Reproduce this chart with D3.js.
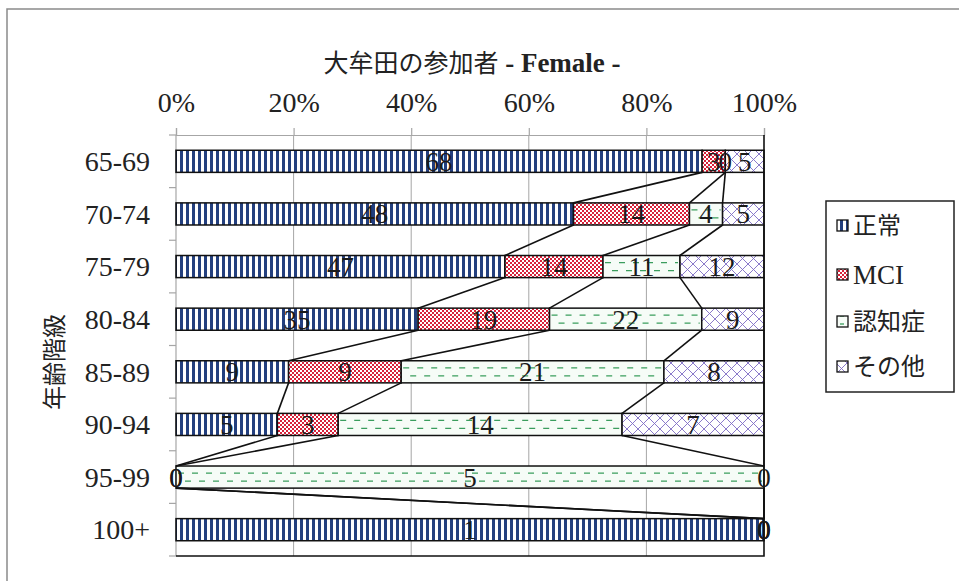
<!DOCTYPE html>
<html><head><meta charset="utf-8">
<script src="https://cdn.jsdelivr.net/npm/d3@7"></script>
<style>
html,body{margin:0;padding:0;background:#fff;}
text{font-family:"Liberation Serif","DejaVu Serif","Noto Sans CJK JP",serif;}
</style></head>
<body><svg id="c" width="959" height="581"></svg>
<script>
const title = "大牟田の参加者";
const titleSuffix = " - Female -";
const yTitle = "年齢階級";
const categories = ["65-69","70-74","75-79","80-84","85-89","90-94","95-99","100+"];
const seriesNames = ["正常","MCI","認知症","その他"];
const normalVals   = [68,48,47,35,9,5,0,1];
const mciVals      = [3,14,14,19,9,3,0,0];
const dementiaVals = [0,4,11,22,21,14,5,0];
const otherVals    = [5,5,12,9,8,7,0,0];
const xTicks = [0,0.2,0.4,0.6,0.8,1];

const rows = categories.map((c,i)=>({cat:c,"正常":normalVals[i],"MCI":mciVals[i],"認知症":dementiaVals[i],"その他":otherVals[i]}));
const stack = d3.stack().keys(seriesNames).offset(d3.stackOffsetExpand)(rows);

const svg = d3.select("#c");
const L=176,R=764,T=135,B=556;
const x = d3.scaleLinear().domain([0,1]).range([L,R]);
const y = d3.scaleBand().domain(categories).range([T,B]).paddingInner(0.58).paddingOuter(0.29);
const bw = y.bandwidth();
const step = y.step();

const defs = svg.append("defs");
let p = defs.append("pattern").attr("id","pNormal").attr("patternUnits","userSpaceOnUse").attr("width",6).attr("height",6);
p.append("rect").attr("width",6).attr("height",6).attr("fill","#fff");
p.append("rect").attr("width",3).attr("height",6).attr("fill","#233f7e");
p = defs.append("pattern").attr("id","pMci").attr("patternUnits","userSpaceOnUse").attr("width",4).attr("height",4);
p.append("rect").attr("width",4).attr("height",4).attr("fill","#fff");
p.append("rect").attr("width",2).attr("height",2).attr("fill","#d8213a");
p.append("rect").attr("x",2).attr("y",2).attr("width",2).attr("height",2).attr("fill","#d8213a");
p = defs.append("pattern").attr("id","pOther").attr("patternUnits","userSpaceOnUse").attr("width",11).attr("height",11);
p.append("rect").attr("width",11).attr("height",11).attr("fill","#fff");
p.append("path").attr("d","M0,0L11,11M11,0L0,11").attr("stroke","#7e6cc4").attr("stroke-width",0.9);
p = defs.append("pattern").attr("id","pDem").attr("patternUnits","userSpaceOnUse").attr("width",8).attr("height",8);
p.append("rect").attr("width",8).attr("height",8).attr("fill","#f6fcf7");
p.append("path").attr("d","M0,4H4").attr("stroke","#3a9d5d").attr("stroke-width",1.3);
const fills = {"正常":"url(#pNormal)","MCI":"url(#pMci)","認知症":"#f6fcf7","その他":"url(#pOther)"};

svg.append("path").attr("d","M7,600V9H970").attr("fill","none").attr("stroke","#8a8a8a").attr("stroke-width",1.5);

svg.append("g").selectAll("line").data(xTicks.slice(1,-1)).join("line")
  .attr("x1",d=>x(d)).attr("x2",d=>x(d)).attr("y1",T).attr("y2",B)
  .attr("stroke","#a6a6a6").attr("stroke-width",1);

const ax = svg.append("g").attr("transform",`translate(0,${T})`)
  .call(d3.axisTop(x).tickValues(xTicks).tickFormat(d3.format(".0%")).tickSize(7).tickPadding(16));
ax.select(".domain").attr("stroke","#a6a6a6").attr("stroke-width",1.2);
ax.selectAll(".tick line").attr("stroke","#a6a6a6").attr("stroke-width",1.2);
ax.selectAll("text").attr("font-size",28).attr("fill","#222").style("font-family",'"Liberation Serif",serif');

const bounds = d3.range(categories.length+1).map(i=>T+i*step);
svg.append("line").attr("x1",L).attr("x2",L).attr("y1",T).attr("y2",B).attr("stroke","#a6a6a6").attr("stroke-width",1.2);
svg.append("g").selectAll("line").data(bounds).join("line")
  .attr("x1",L-7).attr("x2",L).attr("y1",d=>d).attr("y2",d=>d).attr("stroke","#a6a6a6").attr("stroke-width",1.2);
svg.append("g").selectAll("text").data(categories).join("text")
  .attr("x",150).attr("y",d=>y(d)+bw/2).attr("dy","0.35em").attr("text-anchor","end")
  .attr("font-size",28).attr("fill","#222").text(d=>d);

const gBars = svg.append("g");
stack.forEach(s=>{
  gBars.append("g").selectAll("rect").data(s).join("rect")
    .attr("x",d=>x(d[0])).attr("width",d=>x(d[1])-x(d[0]))
    .attr("y",d=>y(d.data.cat)).attr("height",bw)
    .attr("fill",fills[s.key]);
  if(s.key==="認知症"){
    const gd = gBars.append("g");
    [0.32,0.68].forEach((f,j)=>{
      gd.selectAll(null).data(s.filter(d=>d[1]>d[0])).join("line")
        .attr("x1",d=>x(d[0])+2).attr("x2",d=>x(d[1])-2)
        .attr("y1",d=>y(d.data.cat)+bw*f).attr("y2",d=>y(d.data.cat)+bw*f)
        .attr("stroke","#3a9d5d").attr("stroke-width",1.3)
        .attr("stroke-dasharray","6,8").attr("stroke-dashoffset",j?7:0);
    });
  }
  gBars.append("g").selectAll("rect").data(s.filter(d=>d[1]>d[0])).join("rect")
    .attr("x",d=>x(d[0])).attr("width",d=>x(d[1])-x(d[0]))
    .attr("y",d=>y(d.data.cat)).attr("height",bw)
    .attr("fill","none").attr("stroke","#111").attr("stroke-width",1.5);
});

const gLines = svg.append("g");
stack.forEach(s=>{
  for(let k=0;k<s.length-1;k++){
    gLines.append("line")
      .attr("x1",x(s[k][1])).attr("y1",y(categories[k])+bw)
      .attr("x2",x(s[k+1][1])).attr("y2",y(categories[k+1]))
      .attr("stroke","#111").attr("stroke-width",1.6);
  }
});
svg.append("path").attr("d",`M${R},${T}V${B}H${L}`).attr("fill","none").attr("stroke","#111").attr("stroke-width",1.6);

const gLab = svg.append("g");
stack.forEach(s=>{
  gLab.append("g").selectAll("text").data(s).join("text")
    .attr("x",d=>x((d[0]+d[1])/2)).attr("y",d=>y(d.data.cat)+bw/2).attr("dy","0.35em")
    .attr("text-anchor","middle").attr("font-size",27).attr("fill","#1a1a1a")
    .text(d=>d.data[s.key]);
});

const t = svg.append("text").attr("x",472).attr("y",72).attr("text-anchor","middle").attr("fill","#222");
t.append("tspan").attr("font-size",25).style("font-family",'"Noto Sans CJK JP",sans-serif').text(title);
t.append("tspan").attr("font-size",27).attr("font-weight","bold").text(titleSuffix);

svg.append("text").attr("transform","translate(63,362) rotate(-90)").attr("text-anchor","middle")
  .attr("font-size",24).style("font-family",'"Noto Sans CJK JP",sans-serif').attr("fill","#222").text(yTitle);

const lg = svg.append("g");
lg.append("rect").attr("x",826).attr("y",201).attr("width",128).attr("height",191)
  .attr("fill","#fff").attr("stroke","#222").attr("stroke-width",1.5);
const legY = [226,275,322,367];
seriesNames.forEach((n,i)=>{
  lg.append("rect").attr("x",837).attr("y",legY[i]-6).attr("width",11).attr("height",11)
    .attr("fill",n==="認知症"?"url(#pDem)":fills[n]).attr("stroke","#111").attr("stroke-width",1.3);
  lg.append("text").attr("x",853).attr("y",legY[i]).attr("dy","0.35em").attr("font-size",n==="MCI"?27:24)
    .attr("fill","#222").text(n);
});
</script></body></html>
